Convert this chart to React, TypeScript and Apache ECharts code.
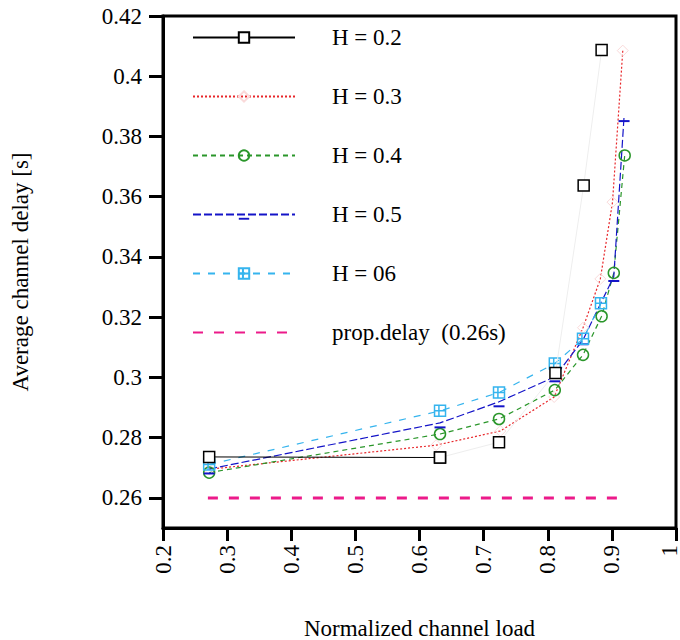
import React, { useEffect, useRef } from "react";
import * as echarts from "echarts";

const h02X = [0.272, 0.632, 0.724, 0.812, 0.856, 0.884];
const h02Y = [0.2736, 0.2734, 0.2785, 0.3015, 0.3637, 0.4087];
const h03X = [0.272, 0.626, 0.726, 0.81, 0.855, 0.882, 0.901, 0.917];
const h03Y = [0.2695, 0.2775, 0.2822, 0.2935, 0.3165, 0.3327, 0.3582, 0.4085];
const h04X = [0.272, 0.632, 0.724, 0.811, 0.855, 0.884, 0.903, 0.92];
const h04Y = [0.2684, 0.2812, 0.2862, 0.2958, 0.3075, 0.3203, 0.3347, 0.3737];
const h05X = [0.272, 0.632, 0.724, 0.811, 0.855, 0.903, 0.919];
const h05Y = [0.2696, 0.2849, 0.2919, 0.3002, 0.3125, 0.3335, 0.3866];
const h06X = [0.272, 0.632, 0.724, 0.811, 0.855, 0.883];
const h06Y = [0.2711, 0.2889, 0.295, 0.3046, 0.3128, 0.3246];
const propX = [0.27, 0.918];
const propY = [0.26, 0.26];

const names = ["H = 0.2", "H = 0.3", "H = 0.4", "H = 0.5", "H = 06", "prop.delay  (0.26s)"];
const yTicks = [0.26, 0.28, 0.3, 0.32, 0.34, 0.36, 0.38, 0.4, 0.42];

const pts = (xs: number[], ys: number[]) => xs.map((x, i) => [x, ys[i]]);

const FONT = "Liberation Serif";

export default function App() {
  const ref = useRef<HTMLDivElement>(null);
  useEffect(() => {
    if (!ref.current) return;
    const chart = echarts.init(ref.current, undefined, { renderer: "svg" });
    const blackPts = pts(h02X, h02Y);
    chart.setOption({
      animation: false,
      backgroundColor: "#fff",
      textStyle: { fontFamily: FONT },
      grid: {
        left: 163,
        top: 16,
        right: 4,
        bottom: 112,
        outerBoundsMode: "none",
        containLabel: false,
        show: true,
        borderColor: "#000",
        borderWidth: 3,
        backgroundColor: "transparent",
      },
      legend: {
        orient: "vertical",
        left: 187,
        top: 21,
        itemWidth: 102,
        itemHeight: 13,
        itemGap: 36,
        textStyle: {
          fontFamily: FONT,
          fontSize: 23,
          color: "#000",
          padding: [0, 0, 0, 32],
          lineHeight: 23,
        },
        data: [
          { name: names[0] },
          { name: names[1] },
          { name: names[2] },
          { name: names[3] },
          { name: names[4] },
          { name: names[5], itemStyle: { opacity: 0 } },
        ],
      },
      xAxis: {
        type: "value",
        min: 0.2,
        max: 1,
        interval: 0.1,
        name: "Normalized channel load",
        nameLocation: "middle",
        nameGap: 89,
        nameTextStyle: { fontFamily: FONT, fontSize: 23, color: "#000" },
        axisLine: { show: true, lineStyle: { color: "#000", width: 3 } },
        axisTick: { show: true, length: 13, lineStyle: { color: "#000", width: 3 } },
        axisLabel: {
          rotate: 90,
          margin: 17,
          fontFamily: FONT,
          fontSize: 23,
          color: "#000",
          formatter: (v: number) => {
            const s = String(Number(v.toFixed(2)));
            return v >= 0.999 ? "{last|" + s + "}" : s;
          },
          rich: {
            last: { fontFamily: FONT, fontSize: 23, color: "#000", padding: [0, 0, 14, 0] },
          },
        },
        splitLine: { show: false },
      },
      yAxis: {
        type: "value",
        min: 0.25,
        max: 0.42,
        name: "Average channel delay [s]",
        nameLocation: "middle",
        nameGap: 131,
        nameRotate: 90,
        nameTextStyle: { fontFamily: FONT, fontSize: 23, color: "#000" },
        axisLine: { show: true, lineStyle: { color: "#000", width: 3 } },
        axisTick: {
          show: true,
          length: 14,
          customValues: yTicks,
          lineStyle: { color: "#000", width: 3 },
        },
        axisLabel: {
          margin: 21,
          customValues: yTicks,
          fontFamily: FONT,
          fontSize: 23,
          color: "#000",
        },
        splitLine: { show: false },
      },
      series: [
        {
          name: names[0],
          type: "line",
          data: blackPts.slice(0, 2),
          symbol: "rect",
          symbolSize: 11,
          z: 5,
          lineStyle: { color: "#000", width: 1 },
          itemStyle: { color: "#fff", borderColor: "#000", borderWidth: 1.5 },
        },
        {
          name: "h02-rest",
          type: "line",
          data: blackPts.slice(1),
          symbol: "rect",
          symbolSize: 11,
          z: 5,
          lineStyle: { color: "#eeeeee", width: 1 },
          itemStyle: { color: "#fff", borderColor: "#000", borderWidth: 1.5 },
        },
        {
          name: names[1],
          type: "line",
          data: pts(h03X, h03Y),
          symbol: "diamond",
          symbolSize: 11,
          lineStyle: { color: "#e8262a", width: 1.2, type: [2, 2] },
          itemStyle: { color: "rgba(255,255,255,0)", borderColor: "#fadada", borderWidth: 1 },
        },
        {
          name: names[2],
          type: "line",
          data: pts(h04X, h04Y),
          symbol: "circle",
          symbolSize: 11,
          lineStyle: { color: "#2a962a", width: 1.2, type: [5, 4] },
          itemStyle: { color: "rgba(255,255,255,0)", borderColor: "#2a962a", borderWidth: 1.5 },
        },
        {
          name: names[3],
          type: "line",
          data: pts(h05X, h05Y),
          symbol: "path://M0,0 M0,9 H10 V11 H0 Z",
          symbolSize: 11,
          lineStyle: { color: "#1414c8", width: 1.2, type: [8, 3] },
          itemStyle: { color: "#1414c8", borderWidth: 0 },
        },
        {
          name: names[4],
          type: "line",
          data: pts(h06X, h06Y),
          symbol: "path://M0,0 H10 V10 H0 Z M4,0 V10 M0,5 H10",
          symbolSize: 11,
          lineStyle: { color: "#35b4ee", width: 1.2, type: [7, 8] },
          itemStyle: { color: "rgba(255,255,255,0)", borderColor: "#35b4ee", borderWidth: 1.5 },
        },
        {
          name: names[5],
          type: "line",
          data: pts(propX, propY),
          symbol: "none",
          showSymbol: false,
          lineStyle: { color: "#ec1a8a", width: 3, type: [10, 11] },
          itemStyle: { color: "#ec1a8a" },
        },
      ],
    });
    return () => chart.dispose();
  }, []);
  return (
    <div
      ref={ref}
      style={{ position: "fixed", left: 0, top: 0, width: 680, height: 640 }}
    />
  );
}
